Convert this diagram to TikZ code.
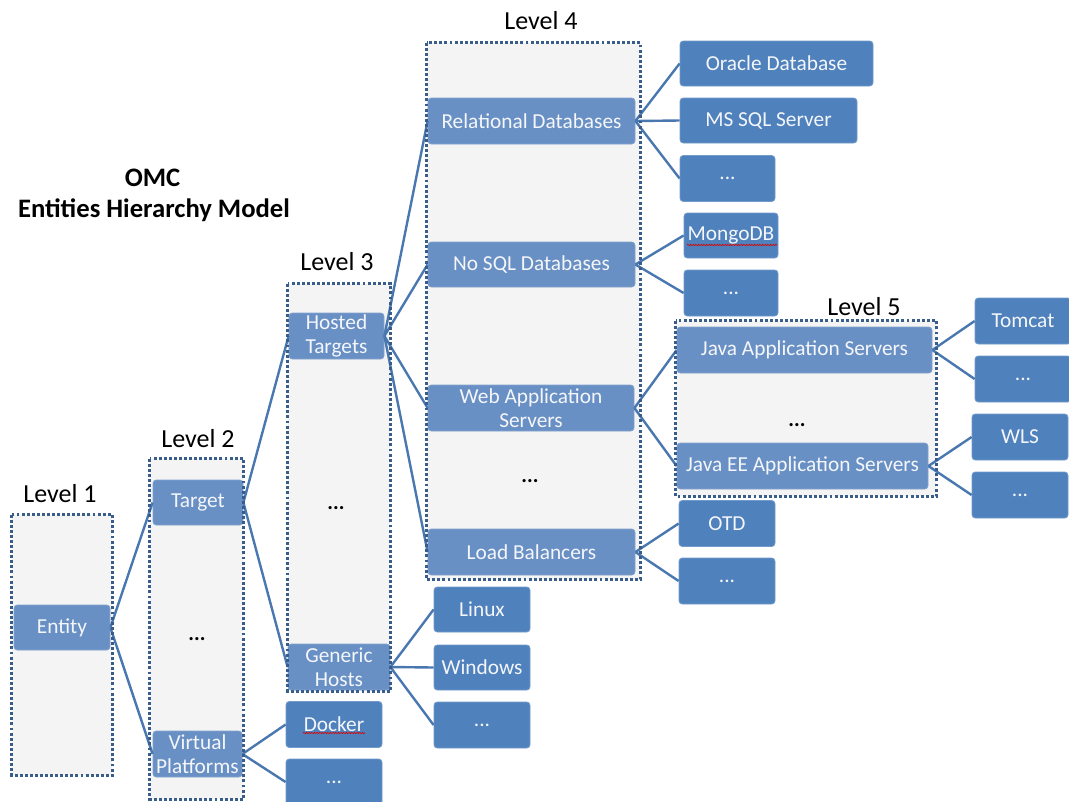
\documentclass[tikz,border=0pt]{standalone}
\usepackage{fontspec}
\setmainfont{Carlito}
\usetikzlibrary{decorations.pathmorphing}
\definecolor{contfill}{HTML}{F4F4F4}
\definecolor{contborder}{HTML}{385D8A}
\definecolor{midblue}{HTML}{6990C4}
\definecolor{leafblue}{HTML}{4F81BD}
\definecolor{linkblue}{HTML}{4977B0}
\definecolor{boxtext}{HTML}{F4F6FA}
\begin{document}
\begin{tikzpicture}[x=0.75pt,y=-0.75pt,
  bsize/.style 2 args={minimum width=#1*0.75pt, minimum height=#2*0.75pt},
  contbox/.style={rectangle, fill=contfill, draw=none, inner sep=0pt},
  contedge/.style={draw=contborder, line width=2pt, dash pattern=on 2.2pt off 1.6pt},
  midbox/.style={rectangle, rounded corners=2.5pt, fill=midblue, draw=midblue!85!white, line width=0.6pt, text=boxtext, inner sep=0pt, align=center, font=\fontsize{16}{18}\selectfont},
  leafbox/.style={rectangle, rounded corners=2.5pt, fill=leafblue, draw=leafblue!80!white, line width=0.6pt, text=boxtext, inner sep=0pt, align=center, font=\fontsize{16}{18}\selectfont},
  levellabel/.style={anchor=base, font=\fontsize{19.5}{22}\selectfont, text=black, inner sep=0pt},
  titletext/.style={anchor=base, font=\fontsize{20}{22}\bfseries\selectfont, text=black, inner sep=0pt},
  morelabel/.style={anchor=base, font=\fontsize{16}{18}\bfseries\selectfont, text=black, inner sep=0pt},
  link/.style={draw=linkblue, line width=1.8pt},
  spell/.style={draw=red!85!black, line width=0.5pt, decorate, decoration={snake, amplitude=0.5pt, segment length=2pt}}
]
\useasboundingbox (0,0) rectangle (1069,801);

% titles
\node[titletext] (omc) at (152.5,186) {OMC};
\node[titletext] (ehm) at (154,217) {Entities Hierarchy Model};

% level labels
\node[levellabel] (lab1) at (60,502) {Level 1};
\node[levellabel] (lab2) at (198,447) {Level 2};
\node[levellabel] (lab3) at (337,270) {Level 3};
\node[levellabel] (lab4) at (541,29) {Level 4};
\node[levellabel] (lab5) at (864,315) {Level 5};

% containers (fill)
\node[contbox, bsize={100}{260}] (L1) at (62,645) {};
\node[contbox, bsize={93}{340}] (L2) at (196.5,629) {};
\node[contbox, bsize={102}{407}] (L3) at (339,487.5) {};
\node[contbox, bsize={213}{536}] (L4) at (533.5,311) {};
\node[contbox, bsize={260}{175}] (L5) at (806,408.5) {};

% ellipses inside containers
\node[morelabel] (m2) at (197,640) {...};
\node[morelabel] (m3) at (336,509) {...};
\node[morelabel] (m4) at (530,482) {...};
\node[morelabel] (m5) at (797,426) {...};

% level boxes
\node[midbox, bsize={96}{45}] (entity) at (62,627.5) {Entity};
\node[midbox, bsize={90}{45}] (target) at (198,502.5) {Target};
\node[midbox, bsize={89}{46}] (virt) at (197.5,754) {Virtual\\Platforms};
\node[midbox, bsize={95}{46}] (hosted) at (336.5,336) {Hosted\\Targets};
\node[midbox, bsize={102}{46}] (generic) at (339,667) {Generic\\Hosts};
\node[midbox, bsize={207}{46}] (rel) at (531.5,121) {Relational Databases};
\node[midbox, bsize={207}{45}] (nosql) at (531.5,264.5) {No SQL Databases};
\node[midbox, bsize={206}{46}] (web) at (531,408) {Web Application\\Servers};
\node[midbox, bsize={207}{46}] (lb) at (531.5,552) {Load Balancers};
\node[midbox, bsize={255}{46}] (java) at (804.5,350) {Java Application Servers};
\node[midbox, bsize={251}{46}] (javaee) at (802.5,466) {Java EE Application Servers};

% leaf boxes
\node[leafbox, bsize={193}{45}] (oracle) at (776.5,63.5) {Oracle Database};
\node[leafbox, bsize={177}{45}] (mssql) at (768.5,120.5) {MS SQL Server};
\node[leafbox, bsize={95}{46}] (reldots) at (727.5,178.5) {...};
\node[leafbox, bsize={94}{45}] (mongo) at (731,235.5) {MongoDB};
\node[leafbox, bsize={94}{46}] (nosqldots) at (731,293) {...};
\node[leafbox, bsize={96}{46}] (tomcat) at (1023,321) {Tomcat};
\node[leafbox, bsize={96}{46}] (javadots) at (1023,379) {...};
\node[leafbox, bsize={96}{46}] (wls) at (1020,437) {WLS};
\node[leafbox, bsize={96}{46}] (javaeedots) at (1020,495) {...};
\node[leafbox, bsize={96}{46}] (otd) at (727,523.5) {OTD};
\node[leafbox, bsize={96}{46}] (lbdots) at (727,581) {...};
\node[leafbox, bsize={96}{45}] (linux) at (482,609.5) {Linux};
\node[leafbox, bsize={96}{45}] (windows) at (482,667.5) {Windows};
\node[leafbox, bsize={96}{46}] (hostdots) at (482,725) {...};
\node[leafbox, bsize={96}{46}] (docker) at (334,724.5) {Docker};
\node[leafbox, bsize={96}{46}] (virtdots) at (334,782) {...};

% connectors
\draw[link] (entity.east) -- (target.west);
\draw[link] (entity.east) -- (virt.west);
\draw[link] (target.east) -- (hosted.west);
\draw[link] (target.east) -- (generic.west);
\draw[link] (virt.east) -- (docker.west);
\draw[link] (virt.east) -- (virtdots.west);
\draw[link] (hosted.east) -- (rel.west);
\draw[link] (hosted.east) -- (nosql.west);
\draw[link] (hosted.east) -- (web.west);
\draw[link] (hosted.east) -- (lb.west);
\draw[link] (generic.east) -- (linux.west);
\draw[link] (generic.east) -- (windows.west);
\draw[link] (generic.east) -- (hostdots.west);
\draw[link] (rel.east) -- (oracle.west);
\draw[link] (rel.east) -- (mssql.west);
\draw[link] (rel.east) -- (reldots.west);
\draw[link] (nosql.east) -- (mongo.west);
\draw[link] (nosql.east) -- (nosqldots.west);
\draw[link] (web.east) -- (java.west);
\draw[link] (web.east) -- (javaee.west);
\draw[link] (lb.east) -- (otd.west);
\draw[link] (lb.east) -- (lbdots.west);
\draw[link] (java.east) -- (tomcat.west);
\draw[link] (java.east) -- (javadots.west);
\draw[link] (javaee.east) -- (wls.west);
\draw[link] (javaee.east) -- (javaeedots.west);

% container borders on top
\foreach \c in {L1,L2,L3,L4,L5} {
  \draw[contedge] (\c.north west) rectangle (\c.south east);
}

% spell-check underlines
\draw[spell] (303,733) -- (365,733);
\draw[spell] (687,245) -- (777,245);
\end{tikzpicture}
\end{document}
